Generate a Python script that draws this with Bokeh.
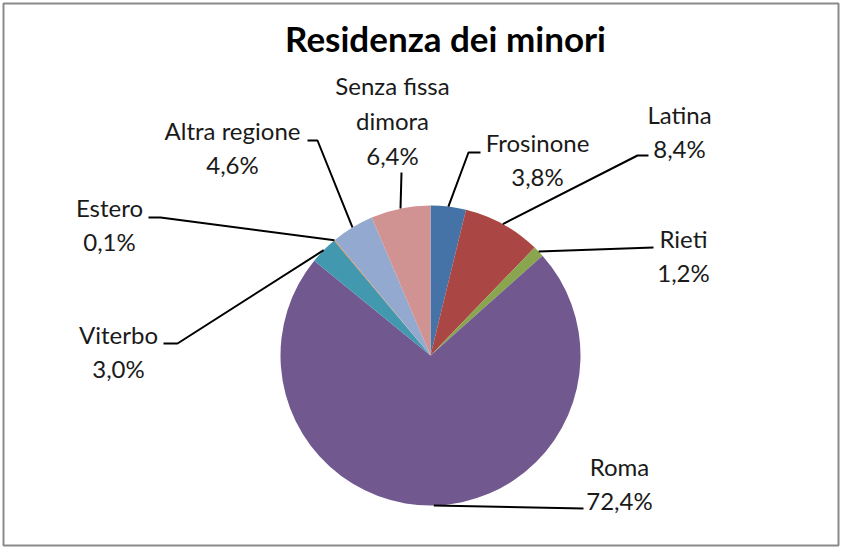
import numpy as np
from bokeh.plotting import figure
from bokeh.models import Range1d, ColumnDataSource
from bokeh.core.properties import value
from bokeh.embed import file_html
from bokeh.resources import INLINE

# ---- data ----
categories = ["Frosinone", "Latina", "Rieti", "Roma", "Viterbo", "Estero",
              "Altra regione", "Senza fissa\ndimora"]
percentages = [3.8, 8.4, 1.2, 72.4, 3.0, 0.1, 4.6, 6.4]
colors = ["#4572A7", "#AA4643", "#89A54E", "#71588F", "#4198AF", "#DB843D",
          "#93A9CF", "#D19392"]
title_text = "Residenza dei minori"

# ---- layout (screen-pixel positions, y grows downward) ----
cx, cy, R = 430, 355, 150
label_x = [537, 679, 683, 619, 118, 109, 232, 392]
label_y = [159, 131, 255, 483, 351, 224, 147, 120]
# leader line bend/end points after the start on the pie edge
leader_pts = [
    [(468, 152), (480, 152)],
    [(637, 155), (648, 155)],
    [(653, 247)],
    [(583, 508)],
    [(177, 343), (163, 343)],
    [(160, 217), (148, 217)],
    [(317, 140), (307, 140)],
    [(401, 172)],
]

W, H = 842, 547
p = figure(width=W, height=H, output_backend="svg", toolbar_location=None,
           x_range=Range1d(0, W), y_range=Range1d(-H, 0),
           min_border=0, background_fill_color="white",
           border_fill_color="white")
p.axis.visible = False
p.grid.visible = False
p.outline_line_color = None

# chart border
p.quad(left=[3], right=[838], top=[-3], bottom=[-545], fill_color=None,
       line_color="#8a8a8a", line_width=2)

vals = np.array(percentages, dtype=float)
frac = vals / vals.sum()
cum_end = np.cumsum(frac)
cum_start = cum_end - frac
start_angle = np.pi / 2 - 2 * np.pi * cum_start
end_angle = np.pi / 2 - 2 * np.pi * cum_end
mid = 2 * np.pi * (cum_start + cum_end) / 2

src = ColumnDataSource(dict(start=start_angle, end=end_angle, color=colors))
p.wedge(x=cx, y=-cy, radius=R, start_angle="start", end_angle="end",
        direction="clock", fill_color="color", line_color=None, source=src)

# leader lines
xs, ys = [], []
for m, pts in zip(mid, leader_pts):
    sx = cx + R * np.sin(m)
    sy = cy - R * np.cos(m)
    xs.append([sx] + [q[0] for q in pts])
    ys.append([-sy] + [-q[1] for q in pts])
p.multi_line(xs=xs, ys=ys, line_color="black", line_width=2)

# labels
texts = [f"{c}\n{v:.1f}%".replace(".", ",") for c, v in zip(categories, percentages)]
lsrc = ColumnDataSource(dict(x=label_x, y=[-v for v in label_y], t=texts))
p.text(x="x", y="y", text="t", source=lsrc, text_font=value("Lato"),
       text_font_size="24px", text_color="#1a1a1a", text_align="center",
       text_baseline="middle", text_line_height=1.2)

p.text(x=[445], y=[-37], text=[title_text], text_font=value("Lato"),
       text_font_size="35px", text_font_style="bold", text_color="black",
       text_align="center", text_baseline="middle")

open("out.html", "w").write(file_html(p, INLINE))
